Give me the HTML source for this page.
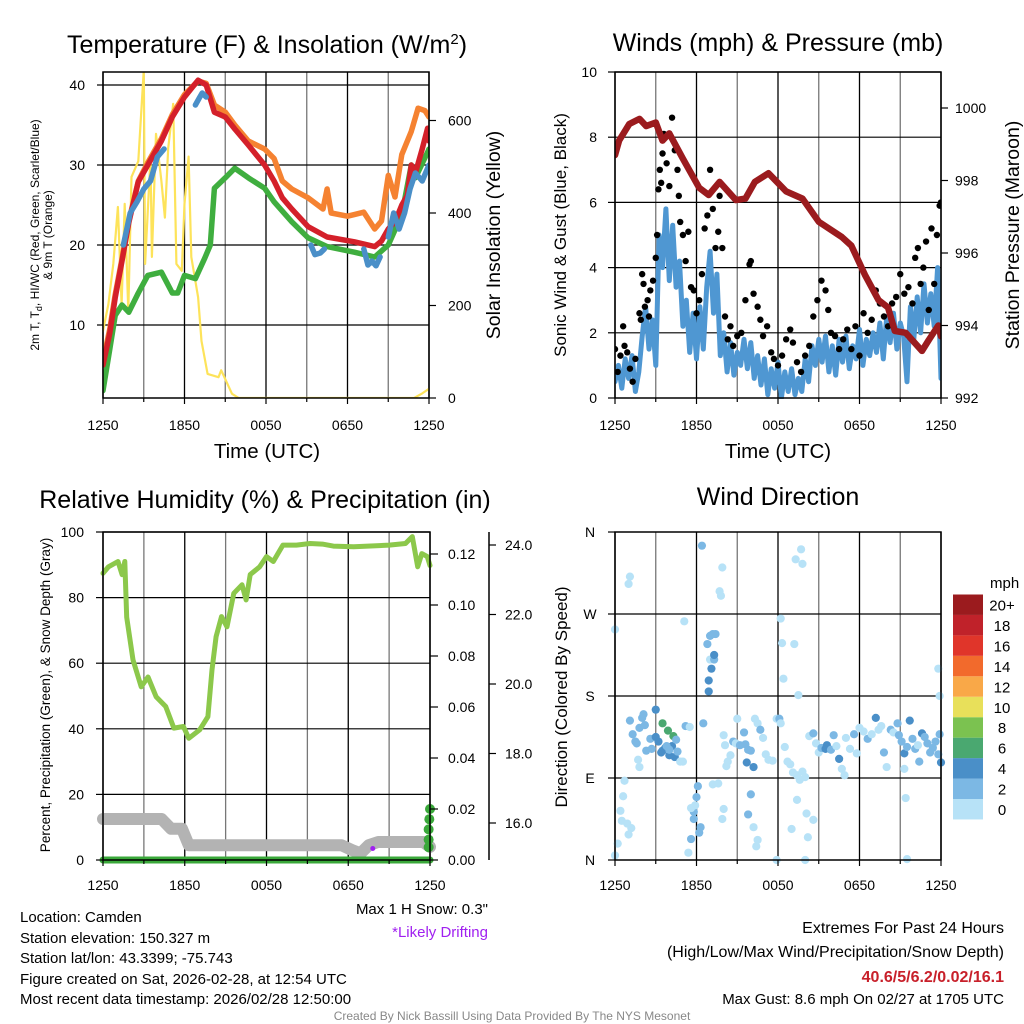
<!DOCTYPE html>
<html><head><meta charset="utf-8"><style>
body{margin:0;background:#fff}
svg{display:block;font-family:"Liberation Sans",Arial,sans-serif}
</style></head><body>
<svg id="c" width="1024" height="1024" viewBox="0 0 1024 1024" xmlns="http://www.w3.org/2000/svg">
<defs>
<clipPath id="cp1"><rect x="103" y="72" width="326" height="326"/></clipPath>
<clipPath id="cp2"><rect x="615" y="72" width="326" height="327"/></clipPath>
<clipPath id="cp3"><rect x="95" y="528" width="345" height="340"/></clipPath>
<clipPath id="cp4"><rect x="608" y="526" width="340" height="340"/></clipPath>
</defs>
<g id="grid"></g>
<g id="marks"></g>
<g id="axes"></g>
<g id="texts" fill="#000">
<text x="267" y="53" font-size="25" text-anchor="middle">Temperature (F) &amp; Insolation (W/m<tspan dy="-9" font-size="15">2</tspan><tspan dy="9">)</tspan></text>
<text x="778" y="51" font-size="25" text-anchor="middle">Winds (mph) &amp; Pressure (mb)</text>
<text x="265" y="508" font-size="25" text-anchor="middle">Relative Humidity (%) &amp; Precipitation (in)</text>
<text x="778" y="505" font-size="25" text-anchor="middle">Wind Direction</text>
<text x="267" y="458" font-size="20.5" text-anchor="middle">Time (UTC)</text>
<text x="778" y="458" font-size="20.5" text-anchor="middle">Time (UTC)</text>
<text transform="translate(39,235) rotate(-90)" font-size="12" text-anchor="middle">2m T, T<tspan dy="3" font-size="9">d</tspan><tspan dy="-3">, HI/WC (Red, Green, Scarlet/Blue)</tspan></text>
<text transform="translate(52,235) rotate(-90)" font-size="12" text-anchor="middle">&amp; 9m T (Orange)</text>
<text transform="translate(500,235) rotate(-90)" font-size="19.5" text-anchor="middle">Solar Insolation (Yellow)</text>
<text transform="translate(566,235) rotate(-90)" font-size="17" text-anchor="middle">Sonic Wind &amp; Gust (Blue, Black)</text>
<text transform="translate(1019,235) rotate(-90)" font-size="19.5" text-anchor="middle">Station Pressure (Maroon)</text>
<text transform="translate(50,695) rotate(-90)" font-size="13.5" text-anchor="middle">Percent, Precipitation (Green), &amp; Snow Depth (Gray)</text>
<text transform="translate(567,697) rotate(-90)" font-size="17" text-anchor="middle">Direction (Colored By Speed)</text>
<text x="488" y="914" font-size="15" text-anchor="end">Max 1 H Snow: 0.3"</text>
<text x="488" y="937" font-size="15" text-anchor="end" fill="#a020f0">*Likely Drifting</text>
<g font-size="15">
<text x="20" y="922">Location: Camden</text>
<text x="20" y="943">Station elevation: 150.327 m</text>
<text x="20" y="963">Station lat/lon: 43.3399; -75.743</text>
<text x="20" y="984">Figure created on Sat, 2026-02-28, at 12:54 UTC</text>
<text x="20" y="1004">Most recent data timestamp: 2026/02/28 12:50:00</text>
</g>
<g font-size="16" text-anchor="end">
<text x="1004" y="933">Extremes For Past 24 Hours</text>
<text x="1004" y="957">(High/Low/Max Wind/Precipitation/Snow Depth)</text>
<text x="1004" y="982" font-weight="bold" fill="#c8202a">40.6/5/6.2/0.02/16.1</text>
<text x="1004" y="1004" font-size="15">Max Gust: 8.6 mph On 02/27 at 1705 UTC</text>
</g>
<text x="512" y="1020" font-size="12" fill="#888" text-anchor="middle">Created By Nick Bassill Using Data Provided By The NYS Mesonet</text>
<text x="990" y="588" font-size="15" text-anchor="start">mph</text>
</g>
</svg>
<script>
// ---- Panel 1: temperature ----
const tempT = [0,0.5,0.9,1.4,1.9,2.6,3.3,4.3,5.1,6.0,7.0,7.6,8.2,9.0,9.7,10.7,11.9,12.6,13.2,13.9,15.1,16.5,18.5,20.0,20.5,21.0,21.5,22.0,22.4,22.7,23.0,23.5,23.9,24];
const tempV = [5,9,13.4,18,22.8,27.9,30,33,36,38.5,40.6,40,36.6,36,34.5,32.5,30,28,25.9,24.5,22.3,21,20.4,19.8,20.5,22,22.9,25,26.2,30,29,32,34.6,33];
const t9mT = [0,0.5,0.9,1.4,1.9,2.6,3.3,4.3,5.1,6.0,7.0,7.6,8.2,9.0,9.7,10.7,11.9,12.6,13.2,13.9,15.1,16.2,16.5,16.8,18.0,18.5,19.2,20.0,20.5,21.0,21.5,22.0,22.7,23.2,23.7,24];
const t9mV = [5.5,9.5,13.8,18.3,23,28,30.3,33.3,36.3,38.8,40.5,40.2,37.5,36.6,35,33,32,30.8,28,27,25.9,24.5,27,24,23.6,23.8,24.1,22,23,28.7,26,31.3,34.2,37.1,36.8,36];
const dewT = [0,0.5,0.9,1.4,1.9,2.6,3.3,4.3,5.1,5.5,6.0,6.8,7.5,7.9,8.2,9.0,9.7,10.7,11.9,12.6,13.9,15.1,16.5,18.5,20.0,21.0,22.0,22.7,23.0,23.9,24];
const dewV = [1.8,7,11.2,12.5,11.6,14,16.2,16.6,14,14,16.2,15.8,18.4,20,27.1,28.4,29.6,28.4,27.1,25.4,22.9,20.9,19.8,19.1,18.5,20,23.8,30,28.4,31.6,32];
const wcT = [1.5,2,2.5,3,3.5,4,4.5,null,6.8,7.1,7.3,7.6,null,15.3,15.6,16,16.3,null,19.2,19.5,19.8,20.1,20.4,null,21,21.4,21.8,22.2,22.6,23,23.5,24];
const wcV = [20,24,25.4,27,28,31,32,null,37.5,38.4,39,38.5,null,20,18.8,19,19.5,null,19.5,17.5,18,17.4,18.5,null,21,24,22,24,27,29,28,30];
const solT = [0,0.4,0.76,1.1,1.37,1.6,1.86,2.1,2.6,3.0,3.1,3.5,3.6,3.9,4.3,4.56,4.8,5.17,5.4,5.8,6.0,6.3,6.5,7.0,7.25,7.7,8.5,8.7,9.5,10,22.9,23.5,24];
const solV = [145,203,290,413,202,420,188,478,512,710,290,520,305,571,469,390,540,636,290,275,420,522,305,218,123,52,45,60,9,0,0,10,20];
// ---- Panel 2: winds ----
const windStep = 0.25;
const windV = [0.5,1.0,0.3,1.2,0.6,1.3,0.2,0.8,1.9,2.8,1.5,2.4,1.0,5.0,4.0,5.8,3.6,5.3,3.4,4.2,2.2,3.0,1.4,2.6,1.2,2.8,1.5,3.4,4.5,2.6,3.8,1.3,2.0,0.8,1.7,0.7,1.4,1.0,1.8,0.9,1.7,0.6,1.3,0.4,1.2,0.1,0.9,0.3,1.1,0.0,0.8,0.2,0.9,0.1,0.6,0.2,1.2,0.5,1.6,1.0,1.8,1.1,1.9,0.8,1.6,0.7,1.8,1.1,1.9,0.9,1.6,1.2,2.1,1.0,1.8,1.3,2.0,1.4,2.3,1.2,2.5,1.7,2.6,1.5,2.3,1.9,0.5,2.8,1.8,3.1,2.0,3.5,2.3,3.2,2.2,4.0,0.6];
const gustT = [0,0.2,0.4,0.6,0.7,0.9,1.1,1.3,1.5,1.8,1.9,2.0,2.1,2.2,2.4,2.5,2.6,2.8,3.0,3.1,3.2,3.3,3.4,3.5,3.6,3.8,4.0,4.2,4.4,4.6,4.7,4.8,5.0,5.2,5.4,5.6,5.8,6.0,6.2,6.4,6.6,6.8,7.0,7.2,7.4,7.6,7.7,7.9,8.1,8.3,8.5,8.7,9.0,9.3,9.6,9.9,10.0,10.2,10.5,10.7,10.9,11.2,11.5,11.7,12.0,12.3,12.6,12.9,13.1,13.4,13.7,14.0,14.3,14.6,14.9,15.2,15.5,15.7,15.9,16.2,16.5,16.8,17.1,17.4,17.7,18.0,18.3,18.6,18.9,19.2,19.5,19.8,20.1,20.4,20.7,21.0,21.3,21.6,21.9,22.1,22.3,22.5,22.7,22.9,23.1,23.3,23.5,23.7,23.9,24];
const gustV = [1.5,0.8,1.3,2.2,1.6,1.4,0.9,0.5,1.2,2.6,2.4,3.8,3.5,2.8,3.0,2.5,3.3,3.6,4.3,5.0,6.4,7.0,6.6,7.5,8.1,7.2,6.5,8.6,7.6,7.0,6.2,5.4,5.0,4.2,5.1,3.4,3.3,2.6,3.0,3.8,5.2,5.6,7.0,5.8,4.6,5.1,6.2,4.6,2.5,1.8,2.2,1.6,1.9,2.0,3.0,4.1,4.2,3.2,2.8,2.4,1.9,2.2,1.4,1.2,1.0,1.3,1.8,2.1,1.7,1.1,0.8,1.3,1.6,2.5,3.0,3.6,3.3,2.7,2.0,1.9,1.5,1.8,2.1,1.5,2.2,1.3,2.6,2.0,2.4,3.3,2.9,2.5,2.2,2.9,3.1,3.8,3.2,3.4,2.9,4.3,4.6,3.5,4.0,4.8,2.7,5.2,3.5,5.0,5.9,6.0];
const presT = [0,0.3,1.05,1.8,2.3,3.0,3.5,4.0,5.0,6.2,6.9,7.7,8.9,9.6,10.3,11.3,12.6,13.8,15.0,16.7,17.4,18.4,19.4,20.1,20.6,21.4,22.6,23.1,23.8,24];
const presV = [998.7,999.1,999.56,999.7,999.5,999.6,999.1,999.3,998.6,997.8,997.6,997.96,997.46,997.5,997.96,998.2,997.7,997.5,996.86,996.44,996.2,995.4,994.7,994.5,993.85,993.8,993.3,993.6,994.0,993.7];
// ---- Panel 3: humidity / precip / snow ----
const rhT = [0,0.4,1.1,1.4,1.6,1.74,2.2,2.8,3.3,3.9,4.6,5.2,5.9,6.3,7.1,7.7,8.0,8.3,8.7,9.1,9.6,10.2,10.5,10.8,11.5,12.0,12.5,13.2,14.2,15.2,16.1,16.9,18.4,21.0,22.2,22.7,23.1,23.4,23.8,24];
const rhV = [87.4,89.4,91,87,91,74,61,52.8,55.8,49.8,46.8,40.2,40.7,37.1,39.7,43.7,58,68.1,74.2,71.1,81.3,83.9,79.3,87,89.4,92.5,91,96,96,96.5,96.3,95.7,95.5,96,96.5,98.6,89.4,93.4,92.5,89.8];
const snowT = [0,4.3,5.0,5.8,6.3,17.5,18.3,18.9,19.5,20.2,23.5,24];
const snowV = [12.5,12.5,9.5,9.5,4.5,4.5,3.0,2.0,4.5,5.5,5.5,4];
const precipT = [23.9,23.9,23.9,23.95,24];
const precipV = [0.005,0.008,0.012,0.016,0.02];
// ---- Panel 4: wind direction (hour, degrees, speed bin) ----
const dirT = [1.1,1.3,1.5,1.6,1.8,2.0,2.1,2.2,2.3,1.7,1.8,2.6,2.7,3.0,3.0,3.2,3.4,3.5,3.5,3.7,3.9,4.0,4.2,4.3,4.4,4.6,4.8,5.0,5.2,5.5,4.0,3.8,4.5,6.5,8.0,8.1,8.3,8.5,8.7,8.9,9.0,9.2,9.5,9.6,9.8,10.0,9.7,10.2,10.3,10.5,10.7,10.9,11.1,11.3,11.6,11.9,12.1,12.2,12.5,12.7,12.9,13.1,13.4,13.6,13.8,14.0,14.3,14.6,14.8,15.0,15.2,15.5,15.6,15.9,16.1,16.3,16.5,16.7,16.9,17.0,17.3,17.6,17.8,18.0,18.3,18.6,18.9,19.2,19.4,19.6,19.8,20.0,20.3,20.5,20.8,20.9,21.1,21.3,21.5,21.3,21.7,21.9,22.1,22.3,22.4,22.6,22.8,23.0,23.2,23.4,23.6,23.8,24.0,23.9,0.0,0.2,0.4,0.5,0.6,0.7,0.9,1.0,1.2,0.0,1.1,1.0,5.4,5.6,5.8,5.8,5.9,6.0,6.1,6.2,6.3,5.6,6.4,6.8,7.0,7.2,7.4,7.0,7.3,7.1,6.9,6.9,7.3,7.9,7.7,7.8,5.1,7.2,7.6,7.9,8.0,8.2,10.0,10.2,9.8,10.4,10.5,11.9,12.2,12.3,12.4,13.2,13.5,13.3,13.7,13.8,13.0,13.4,14.0,14.1,14.2,14.6,21.4,21.5,23.8,23.9];
const dirV = [153,138,130,128,145,156,160,148,120,110,102,133,122,165,135,130,118,150,120,123,142,115,125,136,113,119,108,108,147,146,121,125,132,150,137,126,108,115,130,128,155,126,140,127,121,120,107,102,155,150,143,134,116,110,109,155,155,150,124,108,105,96,93,88,97,91,136,139,128,118,123,122,126,121,137,125,111,100,93,134,122,138,117,145,141,133,138,156,143,147,118,102,143,140,150,137,130,117,124,100,153,133,122,126,108,139,135,128,118,123,130,116,107,138,5,18,54,43,70,87,40,28,35,253,311,303,8,23,45,53,60,69,81,30,36,57,345,237,246,248,248,220,220,210,197,185,225,321,295,290,262,83,84,45,56,103,72,36,50,15,22,0,265,238,199,237,181,330,341,325,34,66,0,51,25,44,68,1,210,180];
const dirBin = [1,1,1,1,1,1,1,1,1,0,0,1,1,2,2,2,2,3,2,2,3,2,2,3,2,1,0,0,1,0,1,1,1,1,0,0,0,0,1,0,0,1,1,1,1,1,2,2,0,0,1,0,0,0,0,0,1,0,0,0,0,0,0,0,0,0,0,1,0,0,1,2,2,1,1,0,2,0,0,0,0,1,0,0,0,1,0,2,0,0,1,0,1,0,1,1,1,2,1,0,2,1,1,0,1,2,1,1,1,1,1,1,2,1,0,0,0,0,0,0,0,0,0,0,0,0,0,1,1,1,0,1,1,1,1,0,1,1,1,1,1,0,1,2,2,2,2,0,0,0,0,0,0,0,0,0,1,0,1,0,0,0,0,0,0,0,0,0,0,0,0,0,0,0,0,0,0,0,0,0];
const speedLabels = ["0","2","4","6","8","10","12","14","16","18","20+"];
const speedColors = ["#b7e2f7","#7cb8e4","#4a8fc8","#4aa870","#7bc250","#e8e05a","#f9a848","#f26a2c","#e0352a","#c0222a","#9b1b1e"];
const timeTicks = ["1250","1850","0050","0650","1250"];
const tempTicks = [10,20,30,40];
const solTicks = [0,200,400,600];
const windTicks = [0,2,4,6,8,10];
const presTicks = [992,994,996,998,1000];
const rhTicks = [0,20,40,60,80,100];
const precipTicks = [0,0.02,0.04,0.06,0.08,0.10,0.12];
const snowTicks = [16,18,20,22,24];
const dirTicks = ["N","E","S","W","N"];

const NS="http://www.w3.org/2000/svg";
const G=document.getElementById('grid'),M=document.getElementById('marks'),A=document.getElementById('axes');
function el(tag,attrs,parent){const e=document.createElementNS(NS,tag);for(const k in attrs)e.setAttribute(k,attrs[k]);parent.appendChild(e);return e;}
const x1=t=>103+t*326/24, yT=v=>405-8*v, yS=v=>398-v*0.4625;
const x2=t=>615+t*326/24, yW=v=>398-v*32.6, yP=v=>398-(v-992)*36.25;
const x3=t=>103+t*327/24, yR=v=>860-v*3.28, yPr=v=>860-v*2550, ySn=v=>823-(v-16)*34.75;
const x4=t=>615+t*326/24, yD=v=>860-v*0.9111;

function path(ts,vs,xf,yf){let d='',pen=false;for(let i=0;i<ts.length;i++){if(ts[i]===null||vs[i]===null){pen=false;continue;}d+=(pen?'L':'M')+xf(ts[i]).toFixed(1)+','+yf(vs[i]).toFixed(1);pen=true;}return d;}
function line(ts,vs,xf,yf,color,w,clip,name){const p=el('path',{d:path(ts,vs,xf,yf),fill:'none',stroke:color,'stroke-width':w,'stroke-linejoin':'round','stroke-linecap':'round','clip-path':'url(#'+clip+')'},M);


return p;}

function grid(xa,xb,ya,yb,xf,yLines){
  for(let h=0;h<=24;h+=3){const x=xf(h);const l=el('line',{x1:x,x2:x,y1:ya,y2:yb,stroke:(h%6===0?'#000':'#777'),'stroke-width':1.3},G);
  
  }
  yLines.forEach(y=>{const l=el('line',{x1:xa,x2:xb,y1:y,y2:y,stroke:'#000','stroke-width':1.2},G);
  
  });
}
grid(103,429,72,398,x1,tempTicks.map(yT));
grid(615,941,72,398,x2,windTicks.slice(1).map(yW));
grid(103,430,532,860,x3,rhTicks.slice(1).map(yR));
grid(615,941,532,860,x4,[614,696,778]);

line(solT,solV,x1,yS,'#fde35a',2.2,'cp1','insolation-line');
line(t9mT,t9mV,x1,yT,'#f58231',5.5,'cp1','temp-9m-line');
line(dewT,dewV,x1,yT,'#3fae3f',5.5,'cp1','dewpoint-line');
line(tempT,tempV,x1,yT,'#d4202a',5.5,'cp1','temp-2m-line');
line(wcT,wcV,x1,yT,'#4a8fc8',5.5,'cp1','windchill-line');
const windT = windV.map((v,i)=>i*windStep);
line(windT,windV,x2,yW,'#4f97d2',5,'cp2','sonic-wind-line');
gustT.forEach((t,i)=>{const c=el('circle',{cx:x2(t),cy:yW(gustV[i]),r:3.2,fill:'#000','clip-path':'url(#cp2)'},M);

});
line(presT,presV,x2,yP,'#9b1b1e',6.5,'cp2','pressure-line');
line(snowT,snowV,x3,yR,'#b3b3b3',12,'cp3','snow-depth-line');
line([0,24],[0,0],x3,yPr,'#3aa83a',7,'cp3','precip-baseline');
precipT.forEach((t,i)=>{const c=el('circle',{cx:x3(t),cy:yPr(precipV[i]),r:5,fill:'#3aa83a','clip-path':'url(#cp3)'},M);

});
{const c=el('circle',{cx:x3(19.8),cy:yR(3.5),r:2.5,fill:'#a020f0'},M);

}
line(rhT,rhV,x3,yR,'#8cc84b',5,'cp3','humidity-line');
dirT.forEach((t,i)=>{const c=el('circle',{cx:x4(t),cy:yD(dirV[i]),r:4.1,fill:speedColors[dirBin[i]],'clip-path':'url(#cp4)'},M);

});

function frame(x0,y0,x1_,y1_,name){const r=el('rect',{x:x0,y:y0,width:x1_-x0,height:y1_-y0,fill:'none',stroke:'#000','stroke-width':1.5},A);

}
frame(103,72,429,398,'temp-plot-frame');
frame(615,72,941,398,'winds-plot-frame');
frame(103,532,430,860,'humidity-plot-frame');
frame(615,532,941,860,'direction-plot-frame');
function txt(x,y,s,anchor,size,name){const t=el('text',{x:x,y:y,'font-size':size,'text-anchor':anchor},A);t.textContent=s;

return t;}
function tick(xa,ya,xb,yb){el('line',{x1:xa,y1:ya,x2:xb,y2:yb,stroke:'#000','stroke-width':1.2},A);}
[[x1,398,430],[x2,398,430],[x3,860,890],[x4,860,890]].forEach(([xf,yb,ty])=>{
  timeTicks.forEach((s,i)=>{const x=xf(i*6);tick(x,yb,x,yb+6);txt(x,ty,s,'middle',14,'x-tick-label');});
  for(let h=3;h<24;h+=6){const x=xf(h);tick(x,yb,x,yb+4);}
});
tempTicks.forEach(v=>{tick(97,yT(v),103,yT(v));txt(85,yT(v)+5,String(v),'end',14,'temp-tick-label');});
solTicks.forEach(v=>{tick(429,yS(v),436,yS(v));txt(448,yS(v)+5,String(v),'start',14,'insolation-tick-label');});
windTicks.forEach(v=>{tick(608,yW(v),615,yW(v));txt(597,yW(v)+5,String(v),'end',14,'wind-tick-label');});
presTicks.forEach(v=>{tick(941,yP(v),948,yP(v));txt(955,yP(v)+5,String(v),'start',14,'pressure-tick-label');});
rhTicks.forEach(v=>{tick(96,yR(v),103,yR(v));txt(84,yR(v)+5,String(v),'end',14,'humidity-tick-label');});
precipTicks.forEach(v=>{tick(430,yPr(v),438,yPr(v));txt(448,yPr(v)+5,v.toFixed(2),'start',14,'precip-tick-label');});
el('line',{x1:489,y1:532,x2:489,y2:860,stroke:'#000','stroke-width':1.5},A);
snowTicks.forEach(v=>{tick(489,ySn(v),496,ySn(v));txt(505,ySn(v)+5,v.toFixed(1),'start',14,'snow-tick-label');});
dirTicks.forEach((s,i)=>{const y=yD(i*90);tick(608,y,615,y);txt(590,y+5,s,'middle',14,'direction-tick-label');});
speedColors.forEach((c,i)=>{const y=799-i*20.45;const r=el('rect',{x:953,y:y,width:30,height:20.45,fill:c},A);


txt(1002,y+16,speedLabels[i],'middle',15,'colorbar-label');});
</script>
</body></html>
